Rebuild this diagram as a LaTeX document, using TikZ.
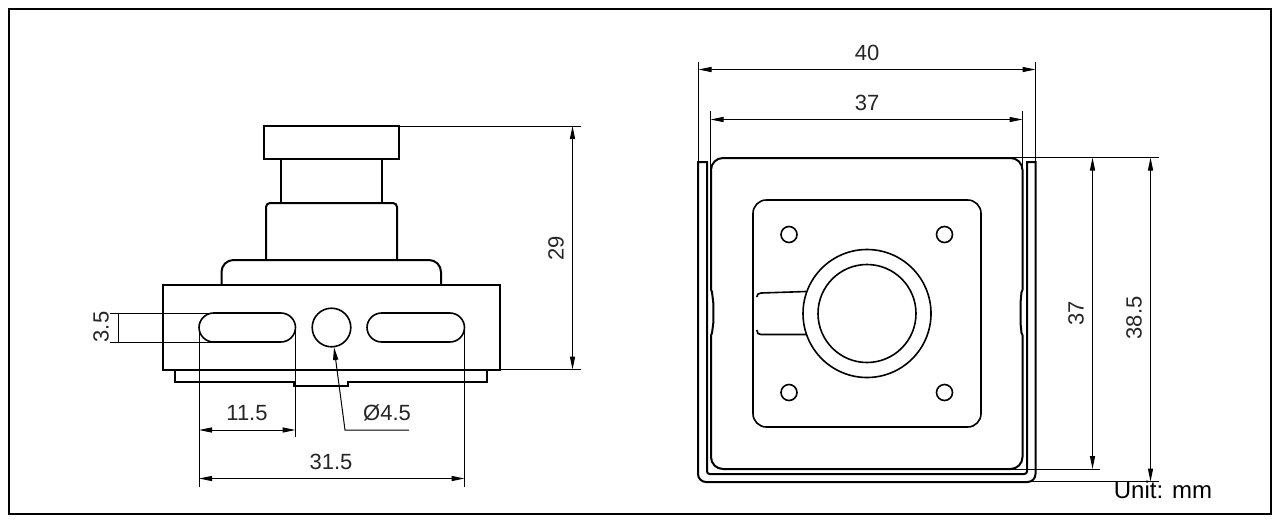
\documentclass[tikz,border=0pt]{standalone}
\usepackage{fontspec}
\setmainfont{Liberation Sans}
\usetikzlibrary{arrows.meta}

\begin{document}
\begin{tikzpicture}[
        x=0.75pt,
        y=-0.75pt,
        part/.style={draw=black, line width=1.5pt},
        detail/.style={draw=black, line width=1.2pt},
        thinline/.style={draw=black, line width=0.75pt},
        dimline/.style={thinline, {Triangle[length=9.75pt, width=3.8pt]}-{Triangle[length=9.75pt, width=3.8pt]}},
        leader/.style={thinline, {Triangle[length=9.75pt, width=3.8pt]}-},
        dimtext/.style={font=\fontsize{16.5pt}{18pt}\selectfont, inner sep=0pt, text=black!85}
    ]
        \useasboundingbox (0,0) rectangle (1280,522);
        \draw[part] (9,9) rectangle (1271,514);

        % side view
        \draw[part] (264,126) rectangle (399,159);
        \draw[part] (281,159) -- (281,203);
        \draw[part] (381.5,159) -- (381.5,203);
        \draw[part, rounded corners=3pt] (266,260) -- (266,203) -- (397,203) -- (397,260);
        \draw[part, rounded corners=9pt] (221.5,285) -- (221.5,260) -- (441,260) -- (441,285);
        \draw[part] (163,285) rectangle (500,370);
        \draw[part] (175,370) -- (175,381.5) -- (294,381.5) -- (294,385.5) -- (347.5,385.5) -- (347.5,381.5) -- (487,381.5) -- (487,370);
        \draw[detail, rounded corners=11pt] (199,313) rectangle (295.5,342);
        \draw[detail, rounded corners=11pt] (367,313) rectangle (464.5,342);
        \draw[detail] (331.5,327.5) circle (19.3);

        \draw[thinline] (110,313) -- (225,313);
        \draw[thinline] (110,342) -- (225,342);
        \draw[thinline] (118.5,313) -- (118.5,342);
        \node[dimtext, rotate=90] (slotheight) at (101,327) {3.5};

        \draw[thinline] (199,327) -- (199,487);
        \draw[thinline] (295.5,327) -- (295.5,437);
        \draw[thinline] (464.5,327) -- (464.5,487);
        \draw[dimline] (199,430) -- (295.5,430);
        \node[dimtext] (slotlength) at (247,413) {11.5};
        \draw[dimline] (199,478.5) -- (464.5,478.5);
        \node[dimtext] (slotspan) at (331,462) {31.5};

        \draw[leader] (334,347) -- (345,430) -- (409,430);
        \node[dimtext] (holesize) at (387,413) {Ø4.5};

        \draw[thinline] (399,126) -- (581,126);
        \draw[thinline] (500,369.5) -- (581,369.5);
        \draw[dimline] (572.5,126) -- (572.5,369.5);
        \node[dimtext, rotate=90] (sideheight) at (556,248) {29};

        % front view
        \draw[part] (698,162) [rounded corners=6pt] -- (698,482) -- (1035.5,482) [sharp corners] -- (1035.5,162) -- (1027,162) [rounded corners=2pt] -- (1027,474) -- (707,474) [sharp corners] -- (707,162) -- cycle;
        \draw[part, rounded corners=9pt] (711,290) -- (711,158) -- (1022.5,158) -- (1022.5,290);
        \draw[part, rounded corners=9pt] (1022.5,335) -- (1022.5,469) -- (711,469) -- (711,335);
        \draw[part] (1022.5,290) -- (1021.5,292) -- (1020.5,303) -- (1020.5,323) -- (1021.5,333) -- (1022.5,335);
        \draw[part] (711,335) -- (712,333) -- (713.3,323) -- (713.3,303) -- (712,292) -- (711,290);
        \draw[detail, rounded corners=10pt] (753,200) rectangle (981,427);
        \foreach \holex in {789,944.5}
            \foreach \holey in {234.5,392.5}
                \draw[detail] (\holex,\holey) circle (8);
        \draw[detail] (867,313.5) circle (64);
        \draw[detail] (867,313.5) circle (49);
        \draw[detail] (756.7,297) -- (758,294) -- (761,293) -- (806,291.5);
        \draw[detail] (756.7,330) -- (758,333.5) -- (761,334.5) -- (806,334.5);

        \draw[thinline] (698.5,162) -- (698.5,62);
        \draw[thinline] (1035.5,162) -- (1035.5,62);
        \draw[dimline] (698.5,69.5) -- (1035.5,69.5);
        \node[dimtext] (outerwidth) at (867,53) {40};
        \draw[thinline] (710.5,170) -- (710.5,111);
        \draw[thinline] (1022.5,170) -- (1022.5,111);
        \draw[dimline] (710.5,119.5) -- (1022.5,119.5);
        \node[dimtext] (innerwidth) at (867,103) {37};

        \draw[thinline] (1012,157.5) -- (1159,157.5);
        \draw[thinline] (1011,469) -- (1100,469);
        \draw[thinline] (1028,481.5) -- (1159,481.5);
        \draw[dimline] (1092.5,157.5) -- (1092.5,469);
        \node[dimtext, rotate=90] (innerheight) at (1076,313) {37};
        \draw[dimline] (1150.5,157.5) -- (1150.5,481.5);
        \node[dimtext, rotate=90] (outerheight) at (1134,318) {38.5};

        \node[dimtext, font=\fontsize{18pt}{20pt}\selectfont, text=black] (unitnote) at (1163,490) {Unit: mm};
    \end{tikzpicture}
\end{document}
